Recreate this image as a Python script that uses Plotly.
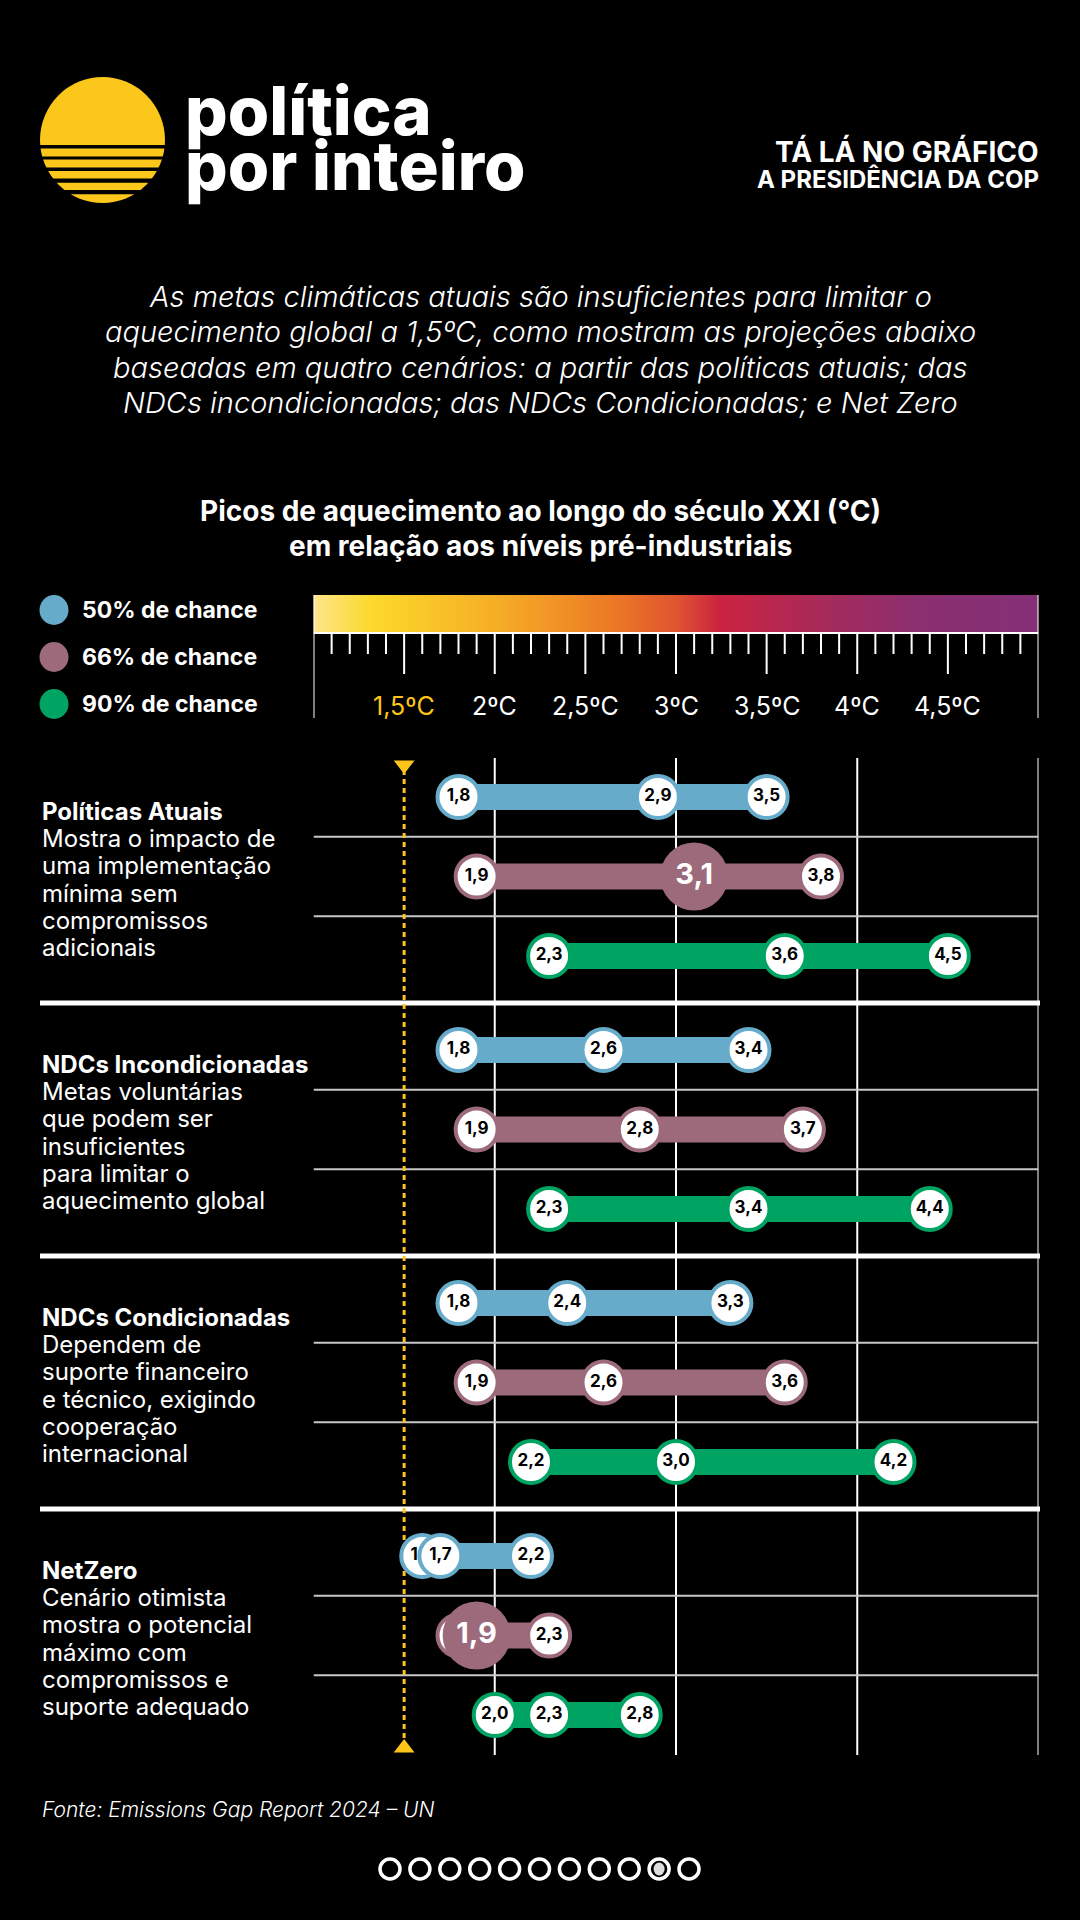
import plotly.graph_objects as go

W, H = 1080, 1920
FONT = "Inter, 'Noto Sans', sans-serif"

# ---------------- data ----------------
cenarios = ["Políticas Atuais", "NDCs Incondicionadas", "NDCs Condicionadas", "NetZero"]
descricoes = [
    ["Mostra o impacto de", "uma implementação", "mínima sem", "compromissos", "adicionais"],
    ["Metas voluntárias", "que podem ser", "insuficientes", "para limitar o", "aquecimento global"],
    ["Dependem de", "suporte financeiro", "e técnico, exigindo", "cooperação", "internacional"],
    ["Cenário otimista", "mostra o potencial", "máximo com", "compromissos e", "suporte adequado"],
]
chances = ["50% de chance", "66% de chance", "90% de chance"]
cores = ["#67ABCB", "#9C6A7A", "#00A462"]

minimo_50 = [1.8, 1.8, 1.8, 1.6]
central_50 = [2.9, 2.6, 2.4, 1.7]
maximo_50 = [3.5, 3.4, 3.3, 2.2]
minimo_66 = [1.9, 1.9, 1.9, 1.8]
central_66 = [3.1, 2.8, 2.6, 1.9]
maximo_66 = [3.8, 3.7, 3.6, 2.3]
minimo_90 = [2.3, 2.3, 2.2, 2.0]
central_90 = [3.6, 3.4, 3.0, 2.3]
maximo_90 = [4.5, 4.4, 4.2, 2.8]
destaque_66 = [True, False, False, True]

escala_ticks = [1.5, 2.0, 2.5, 3.0, 3.5, 4.0, 4.5]
escala_labels = ["1,5ºC", "2ºC", "2,5ºC", "3ºC", "3,5ºC", "4ºC", "4,5ºC"]
grade_x = [2, 3, 4, 5]
meta = 1.5
eixo_min, eixo_max = 1.0, 5.0

titulo_logo = ["política", "por inteiro"]
cabecalho = ["TÁ LÁ NO GRÁFICO", "A PRESIDÊNCIA DA COP"]
subtitulo = [
    "As metas climáticas atuais são insuficientes para limitar o",
    "aquecimento global a 1,5ºC, como mostram as projeções abaixo",
    "baseadas em quatro cenários: a partir das políticas atuais; das",
    "NDCs incondicionadas; das NDCs Condicionadas; e Net Zero",
]
titulo_grafico = ["Picos de aquecimento ao longo do século XXI (°C)",
                  "em relação aos níveis pré-industriais"]
fonte = "Fonte: Emissions Gap Report 2024 – UN"
paginas_total = 11
pagina_atual = 10

series = [
    (minimo_50, central_50, maximo_50),
    (minimo_66, central_66, maximo_66),
    (minimo_90, central_90, maximo_90),
]

# ---------------- layout constants (pixels) ----------------
X0_PX, X1_PX = 313.5, 1038.5
ROW0, ROW_GAP, SEC_GAP = 797, 79.5, 253
GRID_TOP, GRID_BOT = 758, 1755
CB_TOP, CB_BOT = 595, 633
YELLOW = "#FDC51A"
LINE_PITCH = 27.2


def row_y(s, r):
    return ROW0 + s * SEC_GAP + r * ROW_GAP


def fmt(v):
    return f"{v:.1f}".replace(".", ",")


def px(x):
    return x / W


fig = go.Figure()
shapes = []
annotations = []


def text(x, y, t, size, color="white", xanchor="left", xref="paper", weight=None, style=None):
    f = dict(family=FONT, size=size, color=color)
    if weight:
        f["weight"] = weight
    if style:
        f["style"] = style
    annotations.append(dict(x=x, y=y, xref=xref, yref="y", text=t, showarrow=False,
                            xanchor=xanchor, yanchor="middle", font=f))


# ---------- colour scale bar (heatmap on its own axes) ----------
grad_x = [eixo_min + i * 0.1 for i in range(41)]
fig.add_trace(go.Heatmap(
    x=grad_x, y=[0, 1], z=[grad_x, grad_x], zsmooth="best",
    zmin=eixo_min, zmax=eixo_max, showscale=False, hoverinfo="skip",
    colorscale=[[0, "#FDE68C"], [0.08, "#FCD92A"], [0.25, "#F6AE26"],
                [0.41, "#EC7A25"], [0.5, "#DF5530"], [0.56, "#CB2340"],
                [0.71, "#A52B5C"], [0.84, "#8A2F70"], [1, "#843077"]],
    xaxis="x2", yaxis="y2"))

# ticks under the colour scale
for i in range(1, 40):
    t = eixo_min + i * 0.1
    major = (i % 5 == 0)
    shapes.append(dict(type="line", xref="x", yref="y", x0=t, x1=t,
                       y0=CB_BOT, y1=CB_BOT + (41 if major else 21),
                       line=dict(color="white", width=2)))
for t in (eixo_min, eixo_max):
    shapes.append(dict(type="line", xref="x", yref="y", x0=t, x1=t,
                       y0=CB_TOP, y1=718, line=dict(color="white", width=2)))
shapes.append(dict(type="line", xref="x", yref="y", x0=eixo_min, x1=eixo_max,
                   y0=CB_BOT, y1=CB_BOT, line=dict(color="white", width=2)))
for t, lab in zip(escala_ticks, escala_labels):
    text(t, 706, lab, 25, color=YELLOW if t == meta else "white", xanchor="center", xref="x")

# ---------- grid ----------
for g in grade_x:
    shapes.append(dict(type="line", xref="x", yref="y", x0=g, x1=g,
                       y0=GRID_TOP, y1=GRID_BOT, layer="below",
                       line=dict(color="white", width=2)))
for s in range(len(cenarios)):
    for r in range(2):
        yy = (row_y(s, r) + row_y(s, r + 1)) / 2
        shapes.append(dict(type="line", xref="x", yref="y", x0=eixo_min, x1=eixo_max,
                           y0=yy, y1=yy, layer="below",
                           line=dict(color="#C8C8C8", width=2)))
    if s < len(cenarios) - 1:
        yy = (row_y(s, 2) + row_y(s + 1, 0)) / 2
        shapes.append(dict(type="line", xref="paper", yref="y", x0=px(40), x1=px(1040),
                           y0=yy, y1=yy, layer="below",
                           line=dict(color="white", width=5)))

# 1.5 ºC reference line
shapes.append(dict(type="line", xref="x", yref="y", x0=meta, x1=meta,
                   y0=GRID_TOP + 12, y1=GRID_BOT - 10, layer="below",
                   line=dict(color=YELLOW, width=3, dash="5px,4px")))
fig.add_trace(go.Scatter(x=[meta, meta], y=[GRID_TOP + 7, GRID_BOT - 7], mode="markers",
                         marker=dict(symbol=["triangle-down", "triangle-up"], size=18,
                                     color=YELLOW, line=dict(width=0)),
                         hoverinfo="skip", cliponaxis=False, xaxis="x", yaxis="y"))

# ---------- data marks ----------
for s in range(len(cenarios)):
    for c in range(3):
        lo, mid, hi = (series[c][0][s], series[c][1][s], series[c][2][s])
        yy = row_y(s, c)
        fig.add_trace(go.Scatter(x=[lo, hi], y=[yy, yy], mode="lines",
                                 line=dict(color=cores[c], width=26),
                                 hoverinfo="skip", xaxis="x", yaxis="y"))
        for k, v in enumerate((lo, mid, hi)):
            big = (c == 1 and k == 1 and destaque_66[s])
            if big:
                mk = dict(size=68, color=cores[c], line=dict(width=0))
                tf = dict(family=FONT, size=29, color="white", weight="bold")
            else:
                mk = dict(size=42, color="white", line=dict(color=cores[c], width=4))
                tf = dict(family=FONT, size=17, color="black", weight="bold")
            fig.add_trace(go.Scatter(x=[v], y=[yy], mode="markers+text", marker=mk,
                                     text=[fmt(v)], textposition="middle center",
                                     textfont=tf, cliponaxis=False,
                                     hoverinfo="skip", xaxis="x", yaxis="y"))

# scenario descriptions (one annotation per line for exact line pitch)
for s, (nome, desc) in enumerate(zip(cenarios, descricoes)):
    linhas = ["<b>" + nome + "</b>"] + desc
    y_first = row_y(s, 1) + 3 - LINE_PITCH * (len(linhas) - 1) / 2
    for j, ln in enumerate(linhas):
        text(px(40), y_first + j * LINE_PITCH, ln, 24)

# ---------- legend ----------
for c, (lab, cor) in enumerate(zip(chances, cores)):
    yc = 610 + c * 47
    shapes.append(dict(type="circle", xref="paper", yref="y",
                       x0=px(54 - 14.5), x1=px(54 + 14.5), y0=yc - 15, y1=yc + 15,
                       fillcolor=cor, line=dict(width=0)))
    text(px(80), yc, "<b>" + lab + "</b>", 23)

# ---------- header / logo ----------
shapes.append(dict(type="circle", xref="paper", yref="y",
                   x0=px(40), x1=px(165), y0=77, y1=203,
                   fillcolor="#FCC71B", line=dict(width=0)))
for y0, y1 in [(145, 148.5), (156.5, 159.5), (167.5, 171), (178.5, 182.8), (190, 194.3)]:
    shapes.append(dict(type="rect", xref="paper", yref="y",
                       x0=px(30), x1=px(175), y0=y0, y1=y1,
                       fillcolor="black", line=dict(width=0)))
text(px(183), 110, titulo_logo[0], 67, weight=800)
text(px(183), 165, titulo_logo[1], 67, weight=800)
text(px(1041), 151, "<b>" + cabecalho[0] + "</b>", 28, xanchor="right")
text(px(1041), 179, "<b>" + cabecalho[1] + "</b>", 24, xanchor="right")

for i, line in enumerate(subtitulo):
    text(0.5, 296 + i * 35.5, "<i>" + line + "</i>", 29, xanchor="center", weight=300)
for i, line in enumerate(titulo_grafico):
    text(0.5, 511 + i * 35, "<b>" + line + "</b>", 28, xanchor="center")

text(px(40), 1809, "<i>" + fonte + "</i>", 21, weight=300)

# pagination dots
for i in range(paginas_total):
    cx = 390 + i * 29.9
    shapes.append(dict(type="circle", xref="paper", yref="y",
                       x0=px(cx - 10), x1=px(cx + 10), y0=1869 - 10, y1=1869 + 10,
                       line=dict(color="white", width=3.5)))
    if i + 1 == pagina_atual:
        shapes.append(dict(type="circle", xref="paper", yref="y",
                           x0=px(cx - 5.5), x1=px(cx + 5.5), y0=1869 - 6.5, y1=1869 + 6.5,
                           fillcolor="#DDDDDD", line=dict(width=0)))

fig.update_layout(
    width=W, height=H, margin=dict(l=0, r=0, t=0, b=0),
    paper_bgcolor="black", plot_bgcolor="black", showlegend=False,
    shapes=shapes, annotations=annotations,
    xaxis=dict(domain=[px(X0_PX), px(X1_PX)], range=[eixo_min, eixo_max], visible=False,
               anchor="y", fixedrange=True),
    yaxis=dict(domain=[0, 1], range=[H, 0], visible=False, fixedrange=True),
    xaxis2=dict(domain=[px(X0_PX), px(X1_PX)], range=[eixo_min, eixo_max], visible=False,
                anchor="y2", fixedrange=True),
    yaxis2=dict(domain=[1 - CB_BOT / H, 1 - CB_TOP / H], range=[0, 1], visible=False,
                anchor="x2", fixedrange=True),
)

fig.write_html("out.html", config=dict(displayModeBar=False),
               post_script="document.body.style.margin='0';"
                           "document.body.style.background='black';"
                           "document.body.style.overflow='hidden';")
